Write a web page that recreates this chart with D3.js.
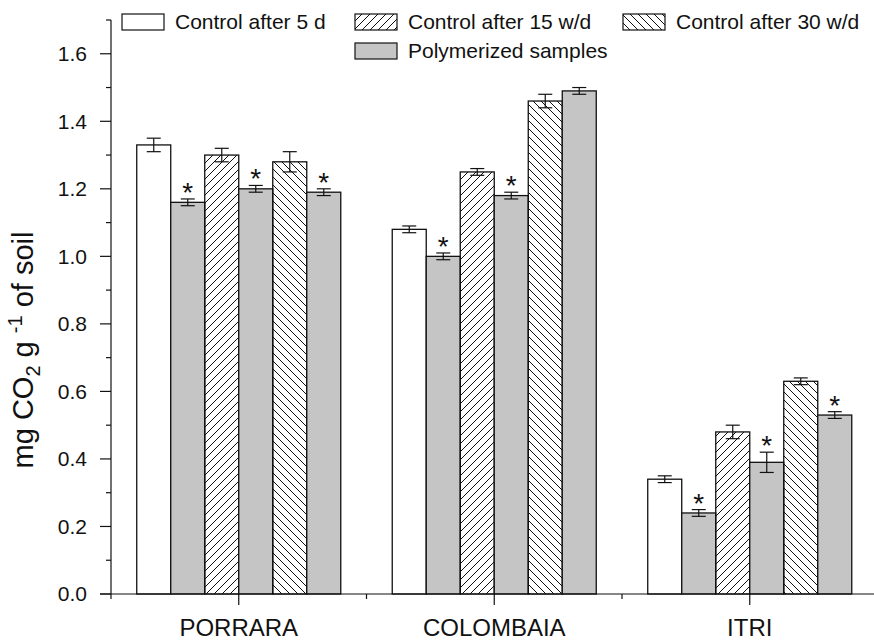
<!DOCTYPE html>
<html>
<head>
<meta charset="utf-8">
<script src="https://cdn.jsdelivr.net/npm/d3@7"></script>
<style>
  body { margin: 0; background: #fff; }
  text { font-family: "Liberation Sans", Arial, sans-serif; fill: #111; }
</style>
</head>
<body>
<svg id="chart" width="874" height="640"></svg>
<script>
//  data
const groups = ["PORRARA", "COLOMBAIA", "ITRI"];
const series = ["Control after 5 d", "Control after 15 w/d", "Control after 30 w/d", "Polymerized samples"];

const control_5d      = [1.33, 1.08, 0.34];
const control_5d_err  = [0.02, 0.01, 0.01];
const polymer_5d      = [1.16, 1.00, 0.24];
const polymer_5d_err  = [0.01, 0.01, 0.01];
const control_15wd     = [1.30, 1.25, 0.48];
const control_15wd_err = [0.02, 0.01, 0.02];
const polymer_15wd     = [1.20, 1.18, 0.39];
const polymer_15wd_err = [0.01, 0.01, 0.03];
const control_30wd     = [1.28, 1.46, 0.63];
const control_30wd_err = [0.03, 0.02, 0.01];
const polymer_30wd     = [1.19, 1.49, 0.53];
const polymer_30wd_err = [0.01, 0.01, 0.01];
//  significance stars on polymerized bars
const star_5d   = [true, true, true];
const star_15wd = [true, true, true];
const star_30wd = [true, false, true];

const y_ticks = [0, 0.2, 0.4, 0.6, 0.8, 1.0, 1.2, 1.4, 1.6];
const y_minor = [0.1, 0.3, 0.5, 0.7, 0.9, 1.1, 1.3, 1.5, 1.7];

//  bar slots inside one group, in drawing order
const slots = [
  {key: "c5",  serie: 0, val: control_5d,   err: control_5d_err,   star: null},
  {key: "p5",  serie: 3, val: polymer_5d,   err: polymer_5d_err,   star: star_5d},
  {key: "c15", serie: 1, val: control_15wd, err: control_15wd_err, star: null},
  {key: "p15", serie: 3, val: polymer_15wd, err: polymer_15wd_err, star: star_15wd},
  {key: "c30", serie: 2, val: control_30wd, err: control_30wd_err, star: null},
  {key: "p30", serie: 3, val: polymer_30wd, err: polymer_30wd_err, star: star_30wd}
];

const fills = ["#ffffff", "url(#hatch_fw)", "url(#hatch_bw)", "#c4c5c4"];

function draw_chart() {
  const svg = d3.select("#chart");
  const axis_left = 111;
  const axis_bottom = 594;

  //  hatch patterns
  const defs = svg.append("defs");
  defs.append("pattern").attr("id", "hatch_fw")
    .attr("patternUnits", "userSpaceOnUse").attr("width", 8).attr("height", 8)
    .append("path").attr("d", "M-2,2 l4,-4 M0,8 l8,-8 M6,10 l4,-4")
    .attr("stroke", "#111").attr("stroke-width", 1);
  defs.append("pattern").attr("id", "hatch_bw")
    .attr("patternUnits", "userSpaceOnUse").attr("width", 8).attr("height", 8)
    .append("path").attr("d", "M-2,6 l4,4 M0,0 l8,8 M6,-2 l4,4")
    .attr("stroke", "#111").attr("stroke-width", 1);

  const y = d3.scaleLinear().domain([0, 1.7]).range([axis_bottom, 20]);
  const x0 = d3.scaleBand().domain(groups).range([axis_left, axis_left + 3 * 255.5]);
  const x1 = d3.scaleBand().domain(slots.map(s => s.key))
    .range([0, x0.bandwidth()]).paddingInner(0).paddingOuter(0.757);

  //  bars
  const g = svg.append("g");
  groups.forEach((grp, gi) => {
    slots.forEach(s => {
      const v = s.val[gi];
      const bx = x0(grp) + x1(s.key);
      g.append("rect")
        .attr("x", bx).attr("y", y(v))
        .attr("width", x1.bandwidth()).attr("height", y(0) - y(v))
        .attr("fill", fills[s.serie])
        .attr("stroke", "#111").attr("stroke-width", 1.3);

      //  error bar
      const cx = bx + x1.bandwidth() / 2;
      const e = s.err[gi];
      g.append("line").attr("x1", cx).attr("x2", cx)
        .attr("y1", y(v + e)).attr("y2", y(v - e))
        .attr("stroke", "#111").attr("stroke-width", 1.2);
      [v + e, v - e].forEach(ev => {
        g.append("line").attr("x1", cx - 7).attr("x2", cx + 7)
          .attr("y1", y(ev)).attr("y2", y(ev))
          .attr("stroke", "#111").attr("stroke-width", 1.2);
      });

      if (s.star && s.star[gi]) {
        g.append("text")
          .attr("x", cx).attr("y", y(v + e) + 3)
          .attr("text-anchor", "middle")
          .style("font-size", "28px")
          .text("*");
      }
    });
  });

  //  y axis
  svg.append("line")
    .attr("x1", axis_left).attr("x2", axis_left)
    .attr("y1", y(0)).attr("y2", y(1.7))
    .attr("stroke", "#111").attr("stroke-width", 1.2);
  y_ticks.forEach(t => {
    svg.append("line")
      .attr("x1", axis_left - 11).attr("x2", axis_left)
      .attr("y1", y(t)).attr("y2", y(t))
      .attr("stroke", "#111").attr("stroke-width", 1.2);
    svg.append("text")
      .attr("x", 87).attr("y", y(t)).attr("dy", "0.35em")
      .attr("text-anchor", "end")
      .style("font-size", "21px")
      .text(d3.format(".1f")(t));
  });
  y_minor.forEach(t => {
    svg.append("line")
      .attr("x1", axis_left - 5).attr("x2", axis_left)
      .attr("y1", y(t)).attr("y2", y(t))
      .attr("stroke", "#111").attr("stroke-width", 1.2);
  });

  //  y title
  const yt = svg.append("text")
    .attr("transform", "translate(33,350) rotate(-90)")
    .attr("text-anchor", "middle")
    .style("font-size", "29px");
  yt.append("tspan").text("mg CO");
  yt.append("tspan").attr("dy", 7).style("font-size", "20px").text("2");
  yt.append("tspan").attr("dy", -7).text(" g ");
  yt.append("tspan").attr("dy", -11).style("font-size", "20px").text("-1");
  yt.append("tspan").attr("dy", 11).text(" of soil");

  //  x axis
  svg.append("line")
    .attr("x1", 100).attr("x2", 874)
    .attr("y1", axis_bottom).attr("y2", axis_bottom)
    .attr("stroke", "#111").attr("stroke-width", 1.2);
  groups.forEach(grp => {
    const gx = x0(grp);
    const cx = gx + x0.bandwidth() / 2;
    svg.append("line")
      .attr("x1", gx).attr("x2", gx)
      .attr("y1", axis_bottom).attr("y2", axis_bottom + 5)
      .attr("stroke", "#111").attr("stroke-width", 1.2);
    svg.append("line")
      .attr("x1", cx).attr("x2", cx)
      .attr("y1", axis_bottom).attr("y2", axis_bottom + 11)
      .attr("stroke", "#111").attr("stroke-width", 1.2);
    svg.append("text")
      .attr("x", cx).attr("y", 636)
      .attr("text-anchor", "middle")
      .style("font-size", "24px")
      .text(grp);
  });

  //  legend
  const legend_pos = [[122, 14], [355, 14], [623, 14], [355, 43]];
  series.forEach((name, i) => {
    const [lx, ly] = legend_pos[i];
    svg.append("rect")
      .attr("x", lx).attr("y", ly).attr("width", 42).attr("height", 16)
      .attr("fill", fills[i]).attr("stroke", "#111").attr("stroke-width", 1.2);
    svg.append("text")
      .attr("x", lx + 53).attr("y", ly + 15)
      .style("font-size", "21px")
      .text(name);
  });
}

draw_chart();
</script>
</body>
</html>
